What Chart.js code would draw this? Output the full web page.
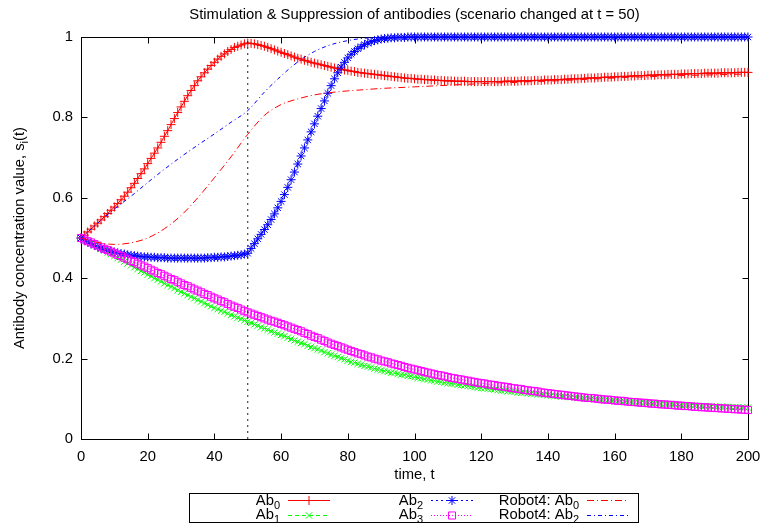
<!DOCTYPE html>
<html>
<head>
<meta charset="utf-8">
<title>Antibody concentration</title>
<script src="https://cdn.jsdelivr.net/npm/chart.js@4/dist/chart.umd.min.js"></script>
<style>
  html, body { margin: 0; padding: 0; background: #fff; }
  #chart { display: block; }
</style>
</head>
<body>
<canvas id="chart" width="762" height="527"></canvas>
<script>
'use strict';

// ---- data -------------------------------------------------------------------
// marker series are sampled every time unit (t = 0..200)
const T_STEP = 1;
// robot reference curves are sampled every 5 time units
const T_STEP_ROBOT = 5;
const T_SWITCH = 50;

const AB0 = [
  .500, .507, .515, .522, .530, .537, .545, .553, .561, .569,
  .577, .586, .595, .604, .614, .625, .636, .648, .660, .672,
  .685, .698, .711, .724, .738, .753, .767, .782, .797, .812,
  .826, .840, .854, .867, .879, .891, .901, .911, .920, .929,
  .937, .945, .952, .958, .964, .969, .974, .977, .980, .983,
  .985, .984, .983, .981, .979, .977, .974, .971, .968, .965,
  .962, .959, .956, .953, .950, .947, .945, .942, .940, .937,
  .935, .933, .931, .929, .927, .925, .923, .921, .920, .918,
  .917, .915, .914, .912, .911, .910, .909, .908, .907, .906,
  .905, .904, .903, .902, .901, .900, .899, .898, .897, .897,
  .896, .895, .895, .894, .894, .893, .893, .892, .892, .891,
  .891, .891, .890, .890, .890, .890, .889, .889, .889, .889,
  .889, .889, .889, .889, .889, .889, .889, .890, .890, .890,
  .890, .890, .891, .891, .891, .891, .892, .892, .892, .893,
  .893, .893, .894, .894, .894, .895, .895, .896, .896, .896,
  .897, .897, .898, .898, .898, .899, .899, .900, .900, .900,
  .901, .901, .902, .902, .902, .903, .903, .904, .904, .904,
  .905, .905, .905, .906, .906, .906, .907, .907, .907, .907,
  .908, .908, .908, .909, .909, .909, .909, .910, .910, .910,
  .910, .910, .911, .911, .911, .911, .911, .912, .912, .912,
  .912
];

const AB1 = [
  .500, .496, .491, .487, .482, .478, .473, .469, .464, .460,
  .455, .450, .446, .441, .437, .432, .427, .423, .418, .414,
  .409, .405, .400, .396, .392, .387, .383, .379, .375, .370,
  .366, .362, .358, .354, .350, .346, .342, .338, .334, .330,
  .326, .323, .319, .316, .312, .309, .305, .302, .299, .295,
  .292, .289, .285, .282, .278, .275, .272, .268, .265, .262,
  .259, .256, .252, .249, .245, .242, .239, .236, .232, .229,
  .226, .223, .220, .216, .213, .210, .207, .204, .201, .198,
  .195, .192, .190, .187, .185, .182, .180, .178, .175, .173,
  .171, .169, .167, .165, .164, .162, .160, .159, .157, .156,
  .154, .152, .151, .149, .148, .146, .145, .143, .142, .140,
  .139, .138, .137, .135, .134, .133, .132, .131, .129, .128,
  .127, .126, .125, .124, .123, .122, .121, .120, .119, .118,
  .117, .116, .115, .115, .114, .113, .112, .111, .111, .110,
  .109, .108, .107, .107, .106, .105, .105, .104, .103, .103,
  .102, .101, .101, .100, .099, .099, .098, .097, .097, .096,
  .095, .095, .094, .093, .093, .092, .092, .091, .090, .090,
  .089, .089, .088, .088, .087, .087, .086, .086, .085, .085,
  .084, .084, .083, .083, .083, .082, .082, .082, .081, .081,
  .081, .080, .080, .080, .080, .079, .079, .079, .078, .078,
  .078
];

const AB2 = [
  .500, .495, .490, .486, .482, .478, .475, .472, .469, .467,
  .465, .463, .461, .460, .458, .457, .456, .455, .454, .453,
  .453, .452, .452, .451, .451, .451, .450, .450, .450, .450,
  .450, .450, .450, .450, .450, .450, .450, .450, .451, .451,
  .452, .452, .453, .453, .454, .455, .456, .457, .458, .460,
  .462, .474, .486, .498, .509, .521, .533, .546, .560, .575,
  .591, .608, .626, .645, .664, .684, .704, .724, .744, .764,
  .784, .803, .822, .841, .860, .879, .896, .911, .925, .937,
  .948, .957, .964, .971, .976, .981, .985, .988, .991, .993,
  .995, .996, .997, .998, .998, .999, .999, .999, 1, 1,
  1, 1, 1, 1, 1, 1, 1, 1, 1, 1,
  1, 1, 1, 1, 1, 1, 1, 1, 1, 1,
  1, 1, 1, 1, 1, 1, 1, 1, 1, 1,
  1, 1, 1, 1, 1, 1, 1, 1, 1, 1,
  1, 1, 1, 1, 1, 1, 1, 1, 1, 1,
  1, 1, 1, 1, 1, 1, 1, 1, 1, 1,
  1, 1, 1, 1, 1, 1, 1, 1, 1, 1,
  1, 1, 1, 1, 1, 1, 1, 1, 1, 1,
  1, 1, 1, 1, 1, 1, 1, 1, 1, 1,
  1, 1, 1, 1, 1, 1, 1, 1, 1, 1,
  1
];

const AB3 = [
  .500, .496, .492, .489, .485, .481, .477, .473, .470, .466,
  .462, .458, .455, .451, .447, .443, .440, .436, .432, .429,
  .425, .421, .417, .413, .410, .406, .402, .398, .395, .391,
  .387, .383, .380, .376, .372, .369, .365, .361, .358, .354,
  .350, .347, .343, .340, .336, .332, .329, .326, .322, .318,
  .315, .312, .309, .306, .303, .300, .297, .294, .292, .289,
  .286, .283, .280, .277, .274, .271, .268, .264, .261, .257,
  .254, .251, .247, .244, .240, .237, .234, .231, .228, .225,
  .222, .219, .216, .213, .211, .208, .205, .203, .200, .198,
  .195, .193, .191, .188, .186, .184, .182, .179, .177, .175,
  .173, .171, .169, .167, .165, .163, .161, .159, .158, .156,
  .154, .152, .151, .149, .148, .146, .145, .143, .142, .140,
  .139, .138, .136, .135, .134, .132, .131, .130, .129, .127,
  .126, .125, .124, .122, .121, .120, .119, .118, .116, .115,
  .114, .113, .112, .111, .110, .109, .108, .107, .106, .105,
  .104, .103, .102, .102, .101, .100, .099, .098, .098, .097,
  .096, .095, .095, .094, .093, .092, .092, .091, .090, .090,
  .089, .088, .088, .087, .086, .086, .085, .085, .084, .083,
  .083, .082, .082, .081, .080, .080, .079, .079, .078, .078,
  .077, .077, .076, .076, .075, .075, .074, .074, .073, .073,
  .072
];

const ROBOT4_AB0 = [
  .500, .489, .484, .488, .500, .523, .556, .600, .650, .702,
  .758, .805, .832, .846, .856, .862, .866, .869, .872, .874,
  .876, .878, .880, .882, .884, .886, .887, .889, .890, .892,
  .894, .896, .898, .900, .901, .903, .904, .905, .906, .907,
  .908
];

const ROBOT4_AB2 = [
  .500, .537, .572, .604, .638, .671, .702, .731, .759, .788,
  .817, .863, .903, .938, .964, .981, .991, .997, .999, 1,
  1, 1, 1, 1, 1, 1, 1, 1, 1, 1,
  1, 1, 1, 1, 1, 1, 1, 1, 1, 1,
  1
];

const SERIES_LABELS = ['Ab_0', 'Ab_1', 'Ab_2', 'Ab_3', 'Robot4: Ab_0', 'Robot4: Ab_2'];
const X_TICKS = [0, 20, 40, 60, 80, 100, 120, 140, 160, 180, 200];
const Y_TICKS = ['0', '0.2', '0.4', '0.6', '0.8', '1'];

const TITLE = 'Stimulation & Suppression of antibodies (scenario changed at t = 50)';
const X_TITLE = 'time, t';
const Y_TITLE = 'Antibody concentration value, s_i(t)';

// ---- helpers ----------------------------------------------------------------
const FONT = '"Liberation Sans", Arial, sans-serif';
const FS = 14.8;

const toPoints = (vals, step) => vals.map((v, i) => ({ x: i * step, y: v }));

// split "Ab_0" into runs, the char after "_" becomes a subscript
function splitSub(str) {
  const runs = [];
  let buf = '';
  for (let i = 0; i < str.length; i++) {
    if (str[i] === '_' && i + 1 < str.length) {
      if (buf) runs.push({ text: buf, sub: false });
      buf = '';
      runs.push({ text: str[i + 1], sub: true });
      i++;
    } else {
      buf += str[i];
    }
  }
  if (buf) runs.push({ text: buf, sub: false });
  return runs;
}

function drawSubText(ctx, str, x, y, align) {
  const runs = splitSub(str);
  const mainFont = `${FS}px ${FONT}`;
  const subFont = `${Math.round(FS * 0.75)}px ${FONT}`;
  let total = 0;
  runs.forEach(r => {
    ctx.font = r.sub ? subFont : mainFont;
    r.w = ctx.measureText(r.text).width;
    total += r.w;
  });
  let cx = align === 'right' ? x - total : align === 'center' ? x - total / 2 : x;
  ctx.textAlign = 'left';
  ctx.textBaseline = 'alphabetic';
  runs.forEach(r => {
    ctx.font = r.sub ? subFont : mainFont;
    ctx.fillText(r.text, cx, r.sub ? y + 4 : y);
    cx += r.w;
  });
}

// ---- datasets ---------------------------------------------------------------
const STYLES = [
  { color: '#ff0000', dash: [],           point: 'cross',    r: 4.5 },
  { color: '#00ff00', dash: [4, 3],       point: 'crossRot', r: 4.5 },
  { color: '#0000ff', dash: [2, 3],       point: 'star',     r: 4.5 },
  { color: '#ff00ff', dash: [1, 2],       point: 'rect',     r: 5   },
  { color: '#ff0000', dash: [7, 3, 1, 3], point: false,      r: 0   },
  { color: '#0000ff', dash: [4, 3, 1, 3], point: false,      r: 0   }
];

const seriesData = [
  toPoints(AB0, T_STEP),
  toPoints(AB1, T_STEP),
  toPoints(AB2, T_STEP),
  toPoints(AB3, T_STEP),
  toPoints(ROBOT4_AB0, T_STEP_ROBOT),
  toPoints(ROBOT4_AB2, T_STEP_ROBOT)
];

const datasets = seriesData.map((pts, i) => {
  const s = STYLES[i];
  return {
    label: SERIES_LABELS[i],
    data: pts,
    borderColor: s.color,
    borderWidth: 1,
    borderDash: s.dash,
    backgroundColor: 'transparent',
    pointStyle: s.point,
    pointRadius: s.r,
    pointBorderColor: s.color,
    pointBorderWidth: 1,
    pointBackgroundColor: 'transparent',
    pointHoverRadius: s.r,
    tension: s.point ? 0 : 0.35,
    cubicInterpolationMode: s.point ? 'default' : 'monotone',
    clip: false,
    // later series paint over earlier ones
    order: 10 - i
  };
});

// dotted marker of the scenario change
datasets.push({
  label: 'switch',
  data: [{ x: T_SWITCH, y: 0 }, { x: T_SWITCH, y: 1 }],
  borderColor: '#222',
  borderWidth: 1,
  borderDash: [2, 4],
  pointRadius: 0,
  clip: false,
  order: 0
});

// ---- frame, titles and key --------------------------------------------------
const TICK_LEN = 6;

const frame = {
  id: 'frame',
  beforeDatasetsDraw(chart) {
    const { ctx, chartArea: a, scales } = chart;
    ctx.save();
    ctx.strokeStyle = '#000';
    ctx.lineWidth = 1;
    ctx.setLineDash([]);
    const L = Math.round(a.left) + 0.5, R = Math.round(a.right) + 0.5;
    const T = Math.round(a.top) + 0.5, B = Math.round(a.bottom) + 0.5;
    ctx.strokeRect(L, T, R - L, B - T);
    ctx.beginPath();
    scales.x.ticks.forEach(t => {
      const px = Math.round(scales.x.getPixelForValue(t.value)) + 0.5;
      ctx.moveTo(px, B); ctx.lineTo(px, B - TICK_LEN);
      ctx.moveTo(px, T); ctx.lineTo(px, T + TICK_LEN);
    });
    scales.y.ticks.forEach(t => {
      const py = Math.round(scales.y.getPixelForValue(t.value)) + 0.5;
      ctx.moveTo(L, py); ctx.lineTo(L + TICK_LEN, py);
      ctx.moveTo(R, py); ctx.lineTo(R - TICK_LEN, py);
    });
    ctx.stroke();
    ctx.restore();
  },
  afterDraw(chart) {
    const { ctx, chartArea: a } = chart;
    const cx = (a.left + a.right) / 2;
    ctx.save();
    ctx.fillStyle = '#000';

    ctx.font = `${FS}px ${FONT}`;
    ctx.textAlign = 'center';
    ctx.textBaseline = 'alphabetic';
    ctx.fillText(TITLE, cx, 19);
    ctx.fillText(X_TITLE, cx, 479);

    ctx.save();
    ctx.translate(24, (a.top + a.bottom) / 2);
    ctx.rotate(-Math.PI / 2);
    drawSubText(ctx, Y_TITLE, 0, 0, 'center');
    ctx.restore();

    // key box
    const box = { l: 189.5, t: 493.5, r: 638.5, b: 522.5 };
    ctx.strokeStyle = '#000';
    ctx.lineWidth = 1;
    ctx.setLineDash([]);
    ctx.strokeRect(box.l, box.t, box.r - box.l, box.b - box.t);

    const colRight = [280, 423, 579];
    const rowY = [500, 514.5];
    const sampleLen = 42;
    chart.data.datasets.slice(0, SERIES_LABELS.length).forEach((ds, i) => {
      const col = Math.floor(i / 2), row = i % 2;
      const y = rowY[row];
      ctx.fillStyle = '#000';
      drawSubText(ctx, ds.label, colRight[col], y + 4.5, 'right');
      const x0 = colRight[col] + 8, x1 = x0 + sampleLen;
      const s = STYLES[i];
      ctx.save();
      ctx.strokeStyle = s.color;
      ctx.lineWidth = 1;
      ctx.setLineDash(s.dash);
      ctx.beginPath();
      ctx.moveTo(x0, Math.round(y) + 0.5);
      ctx.lineTo(x1, Math.round(y) + 0.5);
      ctx.stroke();
      ctx.setLineDash([]);
      if (s.point) {
        ctx.fillStyle = 'transparent';
        Chart.helpers.drawPoint(ctx, { pointStyle: s.point, radius: s.r, borderWidth: 1 },
          (x0 + x1) / 2, Math.round(y) + 0.5);
      }
      ctx.restore();
    });
    ctx.restore();
  }
};

// ---- chart ------------------------------------------------------------------
new Chart(document.getElementById('chart'), {
  type: 'line',
  data: { datasets },
  plugins: [frame],
  options: {
    responsive: false,
    animation: false,
    devicePixelRatio: 1,
    layout: { padding: { left: 0, top: 37, right: 14, bottom: 0 } },
    plugins: {
      legend: { display: false },
      title: { display: false },
      tooltip: { enabled: false }
    },
    scales: {
      x: {
        type: 'linear',
        min: 0,
        max: 200,
        afterBuildTicks: scale => { scale.ticks = X_TICKS.map(v => ({ value: v })); },
        afterFit: scale => {
          scale.height = 88;
          scale.paddingLeft = 0;
          scale.paddingRight = 0;
        },
        grid: { display: false, drawTicks: false },
        border: { display: false },
        ticks: {
          padding: 9,
          color: '#000',
          maxRotation: 0,
          font: { family: FONT, size: FS },
          callback: v => String(v)
        }
      },
      y: {
        type: 'linear',
        min: 0,
        max: 1,
        afterBuildTicks: scale => { scale.ticks = Y_TICKS.map(v => ({ value: parseFloat(v) })); },
        afterFit: scale => {
          scale.width = 81;
          scale.paddingTop = 0;
          scale.paddingBottom = 0;
        },
        grid: { display: false, drawTicks: false },
        border: { display: false },
        ticks: {
          padding: 8,
          color: '#000',
          font: { family: FONT, size: FS },
          callback: (v, i) => Y_TICKS[i]
        }
      }
    }
  }
});
</script>
</body>
</html>
